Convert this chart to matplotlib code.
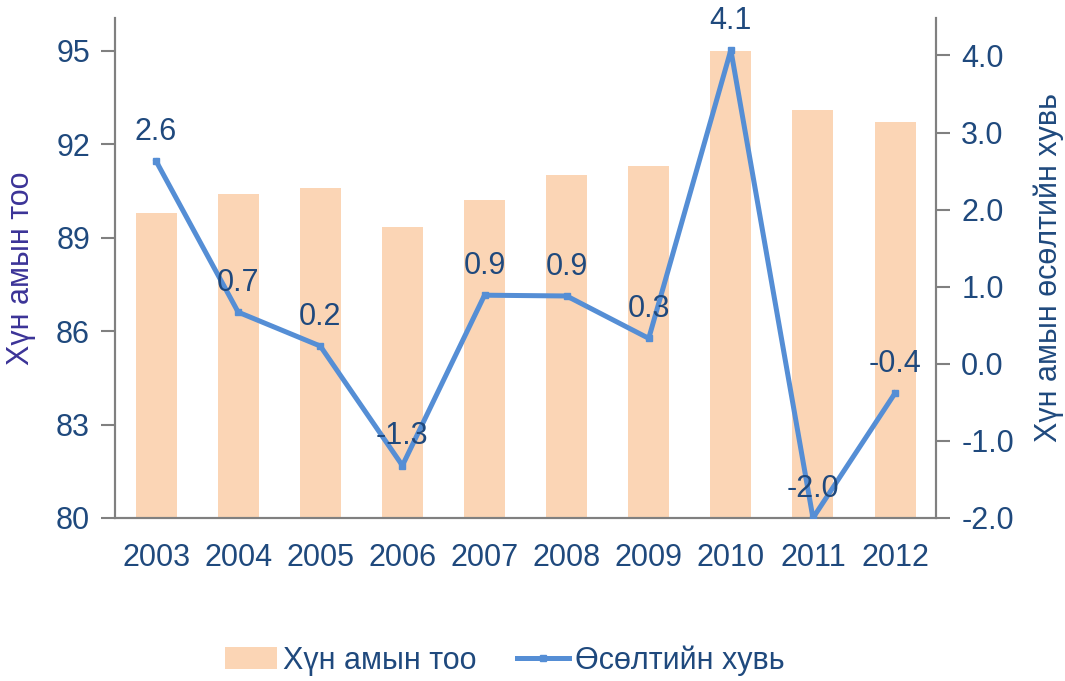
import numpy as np
import matplotlib
matplotlib.use('Agg')
import matplotlib.pyplot as plt

plt.rcParams['font.family'] = ['Liberation Sans', 'DejaVu Sans']

years = ['2003', '2004', '2005', '2006', '2007', '2008', '2009', '2010', '2011', '2012']
population = [89.8, 90.4, 90.6, 89.35, 90.2, 91.0, 91.3, 95.0, 93.1, 92.7]
growth = [2.63, 0.67, 0.23, -1.32, 0.89, 0.88, 0.33, 4.07, -2.0, -0.38]

bar_color = '#FBD5B5'
line_color = '#558ED5'
text_color = '#1F497D'
spine_color = '#808080'
fs = 22

fig = plt.figure(figsize=(10.65, 6.81), dpi=100)
ax = fig.add_axes([0.108, 0.2394, 0.771, 0.7346])
x = np.arange(len(years))

bars = ax.bar(x, population, width=0.5, color=bar_color, label='Хүн амын тоо', zorder=1)
ax.set_xlim(-0.5, 9.5)
ax.set_ylim(80, 96.06)
ax.set_yticks([80, 83, 86, 89, 92, 95])
ax.set_xticks(x)
ax.set_xticklabels(years)
ax.tick_params(axis='x', length=0, pad=18, labelsize=fs, labelcolor=text_color)
ax.tick_params(axis='y', length=10, width=1.5, color=spine_color, labelsize=fs,
               labelcolor=text_color, pad=8)
ax.set_ylabel('Хүн амын тоо', fontsize=fs, color='#3B3397', labelpad=14)

ax2 = ax.twinx()
line, = ax2.plot(x, growth, color=line_color, lw=3.6, marker='s', markersize=5,
                 label='Өсөлтийн хувь', zorder=3)
ax2.set_ylim(-2.0, 4.49)
ax2.set_yticks([-2, -1, 0, 1, 2, 3, 4])
ax2.set_yticklabels(['%.1f' % v for v in [-2, -1, 0, 1, 2, 3, 4]])
ax2.tick_params(axis='y', length=10, width=1.5, color=spine_color, labelsize=fs,
                labelcolor=text_color, pad=8)
ax2.set_ylabel('Хүн амын өсөлтийн хувь', fontsize=fs, color=text_color, labelpad=14)

for xi, g in zip(x, growth):
    ax2.annotate('%.1f' % g, (xi, g), xytext=(0, 21), textcoords='offset points',
                 ha='center', va='center', fontsize=fs, color=text_color)

for a in (ax, ax2):
    a.spines['top'].set_visible(False)
    for s in ('left', 'right', 'bottom'):
        a.spines[s].set_color(spine_color)
        a.spines[s].set_linewidth(1.5)

fig.legend(handles=[bars, line], loc='center', bbox_to_anchor=(0.474, 0.03), ncol=2,
           frameon=False, fontsize=fs, labelcolor=text_color, handlelength=1.7,
           handletextpad=0.2, columnspacing=1.3, borderpad=0.2)

fig.savefig('out.png', dpi=100)
